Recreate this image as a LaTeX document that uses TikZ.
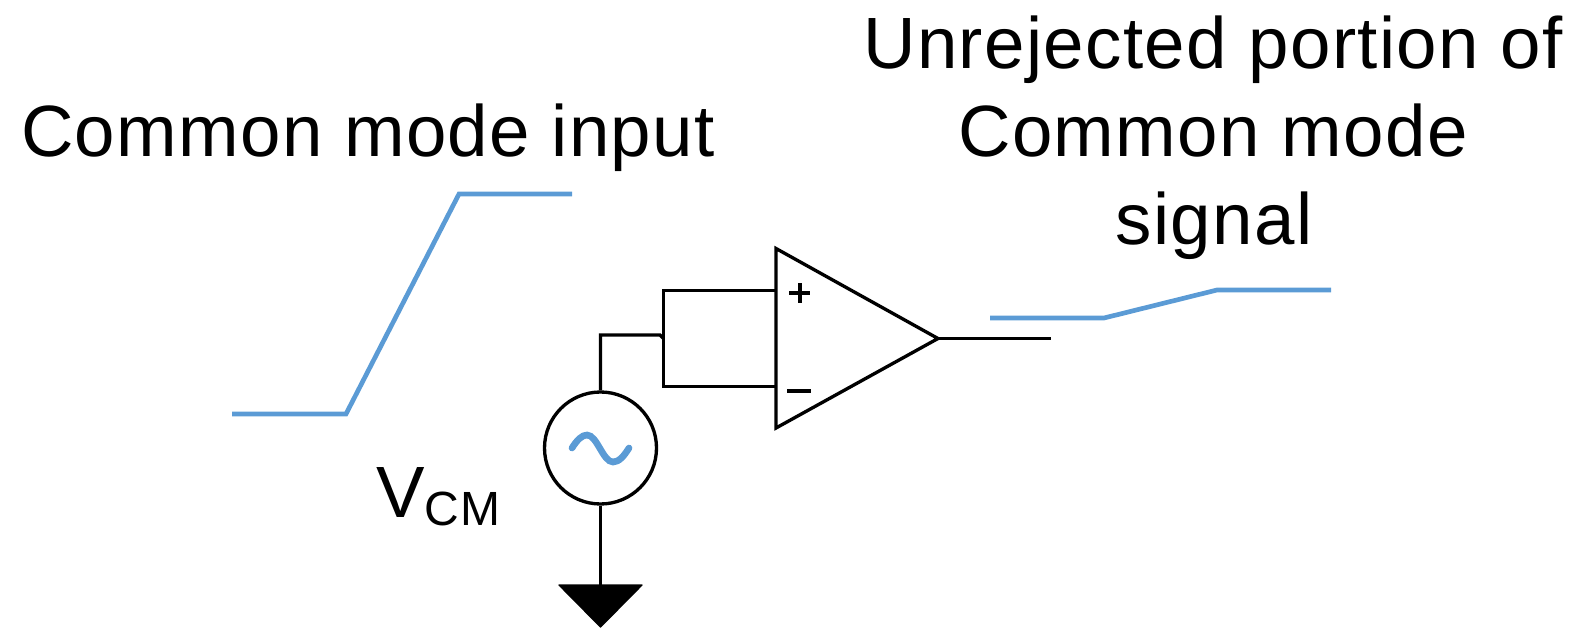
\documentclass[tikz,border=0pt]{standalone}
\usepackage{fontspec}
\setmainfont{Liberation Sans}
\newfontfamily\spacedfont[LetterSpace=1.9]{Liberation Sans}
\newfontfamily\cmfont[LetterSpace=4]{Liberation Sans}
\definecolor{sigblue}{HTML}{5B9BD5}
\tikzset{
  wire/.style={draw=black,line width=2.5pt,line join=miter},
  sig/.style={draw=sigblue,line width=3.5pt,line join=miter},
  big/.style={font=\spacedfont\fontsize{54.5}{54.5}\selectfont,inner sep=0pt,anchor=base},
}
\begin{document}
\begin{tikzpicture}[x=0.75pt,y=-0.75pt]
\useasboundingbox (0,0) rectangle (1574,628);
% coordinates
\coordinate (tl) at (776,248.5);
\coordinate (bl) at (776,428);
\coordinate (tip) at (938,338.5);
\coordinate (inp) at (776,290.5);
\coordinate (inn) at (776,386.5);
\coordinate (jt) at (663.5,290.5);
\coordinate (jb) at (663.5,386.5);
\coordinate (jm) at (663.5,338.5);
\coordinate (out) at (1051,338.5);
\node[circle,draw=black,line width=2.5pt,minimum size=84pt,inner sep=0pt] (src) at (600.5,448) {};
\coordinate (gnd) at (600.5,585);
% wires
\draw[wire] (tl) -- (tip) -- (bl) -- cycle;
\draw[wire] (inp) -- (jt) -- (jb) -- (inn);
\draw[wire] (src.north) -- (src.north |- 0,335) -- (660,335) -- (jm);
\draw[wire] (src.south) -- (gnd);
\draw[wire] (tip) -- (out);
\fill[black,draw=black,line width=1pt,line join=round] (559,585) -- (642,585) -- (600.5,627) -- cycle;
% plus minus
\draw[draw=black,line width=3pt] (789,293) -- (810,293) (799.5,283) -- (799.5,303);
\draw[wire] (787,391) -- (811,391);
% blue signals
\draw[sig] (232,414) -- (346,414) -- (459,194) -- (572,194);
\draw[sig] (990,318) -- (1104,318) -- (1217,290) -- (1331,290);
\draw[sigblue,line width=5pt,line cap=round] (572,448) .. controls (577,440) and (582,435) .. (587,435) .. controls (597,435) and (603,462) .. (613,462) .. controls (619,462) and (624,456) .. (629,448);
% text
\node[big] (t1) at (368,156) {Common mode input};
\node[big] (t2) at (1213,68) {Unrejected portion of};
\node[big] (t3) at (1213,156) {Common mode};
\node[big] (t4) at (1214,244) {signal};
\node[big,anchor=base west] (v) at (376,517) {V};
\node[font=\cmfont\fontsize{36}{36}\selectfont,inner sep=0pt,anchor=base west] (cm) at (424,525) {CM};
\end{tikzpicture}
\end{document}
